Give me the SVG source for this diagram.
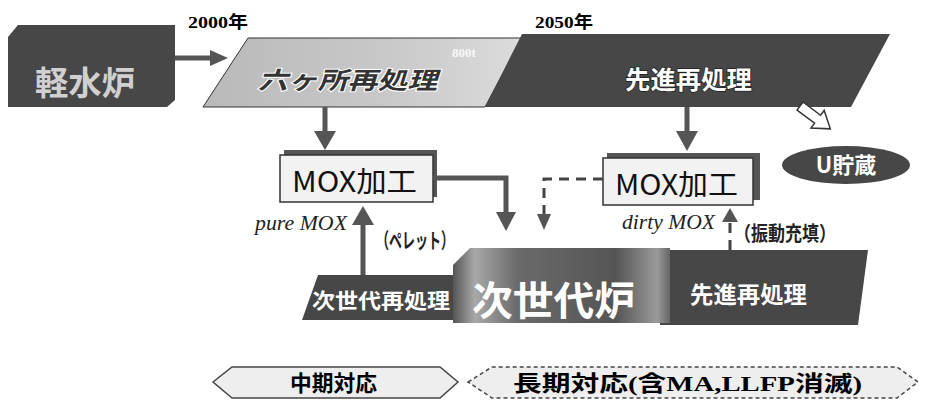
<svg xmlns="http://www.w3.org/2000/svg" width="930" height="410" viewBox="0 0 930 410">
  <defs>
    <style>
      .jp { font-family: "Noto Sans CJK JP", "Noto Sans", sans-serif; }
      .b { font-weight: bold; }
      .serif { font-family: "Liberation Serif", "Noto Sans CJK JP", serif; font-weight: bold; }
      .white { fill: #ffffff; }
      .dark { fill: #474747; }
      .box { fill: #f2f2f2; stroke: #333; stroke-width: 1.5; }
      .shadow { fill: #555; }
      .shaft { stroke: #555; stroke-width: 5; fill: none; }
      .dash { stroke: #444; stroke-width: 3; fill: none; stroke-dasharray: 10 7; }
      .head { fill: #555; }
      .tag { fill: #eeeeee; stroke: #444; stroke-width: 1.5; }
      .halo { stroke: #222; stroke-width: 1.5; paint-order: stroke; }
      .ital { font-family: "Liberation Serif", serif; font-style: italic; fill: #222; }
    </style>
    <linearGradient id="lightBand" x1="0" y1="0" x2="1" y2="0">
      <stop offset="0" stop-color="#b9b9b9"/>
      <stop offset="0.6" stop-color="#c9c9c9"/>
      <stop offset="1" stop-color="#dcdcdc"/>
    </linearGradient>
    <linearGradient id="reactorFill" x1="0" y1="0" x2="1" y2="0">
      <stop offset="0" stop-color="#555"/>
      <stop offset="0.1" stop-color="#a8a8a8"/>
      <stop offset="0.3" stop-color="#6a6a6a"/>
      <stop offset="0.75" stop-color="#555"/>
      <stop offset="0.94" stop-color="#9a9a9a"/>
      <stop offset="1" stop-color="#666"/>
    </linearGradient>
  </defs>

  <!-- year labels -->
  <text class="serif" x="188" y="28" font-size="17" textLength="60" lengthAdjust="spacingAndGlyphs">2000年</text>
  <text class="serif" x="535" y="28" font-size="17" textLength="58" lengthAdjust="spacingAndGlyphs">2050年</text>

  <!-- light water reactor block -->
  <g id="lwr">
    <polygon class="dark" points="8,37 18,25 175,25 175,100 167,107 8,107"/>
    <text class="jp b" x="35" y="95" font-size="33" fill="#d0d0d0" textLength="100" lengthAdjust="spacingAndGlyphs">軽水炉</text>
  </g>

  <!-- Rokkasho reprocessing band -->
  <g id="rokkasho">
    <polygon fill="url(#lightBand)" stroke="#333" stroke-width="1" points="248,38 522,38 485,107 203,107"/>
    <text class="serif" x="452" y="57" font-size="13" fill="#fff" opacity="0.85">800t</text>
    <text class="jp b" x="258" y="89" font-size="24" font-style="italic" fill="#333" stroke="#fff" stroke-width="2" paint-order="stroke" textLength="179" lengthAdjust="spacingAndGlyphs">六ヶ所再処理</text>
  </g>

  <!-- advanced reprocessing band (upper) -->
  <g id="adv-upper">
    <polygon class="dark" points="522,34 890,34 851,107 485,107"/>
    <text class="jp b white halo" x="625" y="89" font-size="25" textLength="127" lengthAdjust="spacingAndGlyphs">先進再処理</text>
  </g>

  <!-- MOX fabrication (pure) -->
  <g id="mox-pure">
    <rect class="shadow" x="284" y="150" width="153" height="47"/>
    <rect class="box" x="280" y="155" width="153" height="47"/>
    <text class="jp" x="292" y="192" font-size="28" fill="#111" textLength="125" lengthAdjust="spacingAndGlyphs">MOX加工</text>
  </g>

  <!-- MOX fabrication (dirty) -->
  <g id="mox-dirty">
    <rect class="shadow" x="607" y="153" width="153" height="47"/>
    <rect class="box" x="603" y="158" width="150" height="47"/>
    <text class="jp" x="615" y="195" font-size="28" fill="#111" textLength="123" lengthAdjust="spacingAndGlyphs">MOX加工</text>
  </g>

  <!-- uranium storage -->
  <g id="u-storage">
    <ellipse class="dark" cx="846" cy="165" rx="64" ry="19"/>
    <text class="jp b white" x="846" y="173" font-size="22" text-anchor="middle">U貯蔵</text>
  </g>

  <!-- next generation reprocessing -->
  <g id="ng-reprocessing">
    <polygon class="dark" points="318,275 460,275 460,320 302,320"/>
    <text class="jp b white" x="312" y="308" font-size="21" textLength="138" lengthAdjust="spacingAndGlyphs">次世代再処理</text>
  </g>

  <!-- advanced reprocessing (lower) -->
  <g id="adv-lower">
    <polygon class="dark" points="660,250 868,250 858,325 660,325"/>
    <text class="jp b white" x="690" y="303" font-size="23" textLength="117" lengthAdjust="spacingAndGlyphs">先進再処理</text>
  </g>

  <!-- next generation reactor -->
  <g id="ng-reactor">
    <polygon fill="url(#reactorFill)" points="453,265 470,248 670,248 670,323 453,323"/>
    <text class="jp b white" x="472" y="315" font-size="40" textLength="163" lengthAdjust="spacingAndGlyphs">次世代炉</text>
  </g>

  <!-- period tags -->
  <g id="mid-term">
    <polygon class="tag" points="213,382 232,367 440,367 458,382 440,398 232,398"/>
    <text class="serif" x="290" y="391" font-size="22" textLength="87" lengthAdjust="spacingAndGlyphs">中期対応</text>
  </g>
  <g id="long-term">
    <polygon class="tag" stroke-dasharray="4 3" points="468,382 492,367 897,367 918,382 897,398 492,398"/>
    <text class="serif" x="513" y="391" font-size="22" textLength="349" lengthAdjust="spacingAndGlyphs">長期対応(含MA,LLFP消滅)</text>
  </g>

  <!-- flow labels -->
  <text class="ital" x="255" y="230" font-size="20" textLength="92" lengthAdjust="spacingAndGlyphs">pure MOX</text>
  <text class="jp b" x="376" y="248" font-size="21" fill="#222" textLength="78" lengthAdjust="spacingAndGlyphs">（ペレット）</text>
  <text class="ital" x="622" y="229" font-size="20" textLength="93" lengthAdjust="spacingAndGlyphs">dirty MOX</text>
  <text class="jp b" x="734" y="241" font-size="20" fill="#222" textLength="102" lengthAdjust="spacingAndGlyphs">（振動充填）</text>

  <!-- connectors -->
  <g id="connectors">
    <!-- LWR to Rokkasho -->
    <line class="shaft" x1="175" y1="58" x2="212" y2="58"/>
    <polygon class="head" points="210,50 228,58 210,66"/>
    <!-- Rokkasho to MOX -->
    <line class="shaft" x1="325" y1="107" x2="325" y2="133"/>
    <polygon class="head" points="314,131 336,131 325,150"/>
    <!-- advanced reprocessing to MOX -->
    <line class="shaft" x1="687" y1="107" x2="687" y2="133"/>
    <polygon class="head" points="676,131 698,131 687,151"/>
    <!-- MOX to reactor -->
    <path class="shaft" d="M433,178 H506 V214"/>
    <polygon class="head" points="496,212 516,212 506,231"/>
    <!-- dirty MOX to reactor (dashed) -->
    <path class="dash" d="M603,179 H544 V216"/>
    <polygon class="head" points="537,214 551,214 544,230"/>
    <!-- next gen reprocessing to MOX -->
    <line class="shaft" x1="363" y1="275" x2="363" y2="224"/>
    <polygon class="head" points="352,225 374,225 363,206"/>
    <!-- advanced reprocessing to dirty MOX (dashed) -->
    <line class="dash" x1="730" y1="250" x2="730" y2="221"/>
    <polygon class="head" points="722,222 738,222 730,208"/>
    <!-- reprocessing to U storage (hollow) -->
    <polygon fill="#fff" stroke="#333" stroke-width="1.5" transform="translate(800,106) rotate(37)" points="0,-5 22,-5 22,-11 38,0 22,11 22,5 0,5"/>
  </g>
</svg>
